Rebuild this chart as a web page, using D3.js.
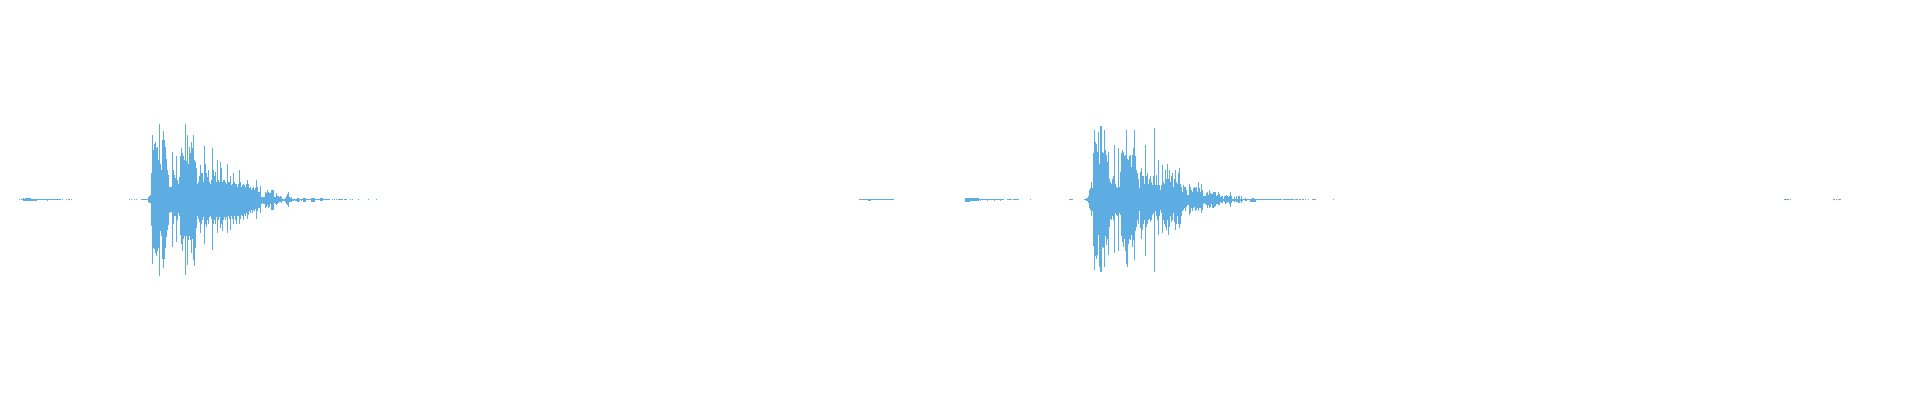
<!DOCTYPE html>
<html>
<head>
<meta charset="utf-8">
<script src="https://cdn.jsdelivr.net/npm/d3@7"></script>
<style>
  html, body { margin: 0; padding: 0; background: #fff; overflow: hidden; }
  svg { display: block; }
</style>
</head>
<body>
<script>
// waveform peaks, one value per display frame (1 frame = 1 column)
var totalFrames = 1920;

// near-silent stretches, drawn at the floor level: [first frame, last frame]
var quietRuns = [
  [19, 19], [38, 60], [62, 62], [66, 66], [68, 69], [71, 71],
  [129, 129], [131, 131], [134, 134], [136, 136],
  [332, 332], [334, 334], [336, 336], [338, 342], [344, 346], [350, 350],
  [352, 352], [358, 358], [368, 368], [376, 376],
  [859, 893], [979, 1003], [1007, 1011], [1013, 1018], [1030, 1030], [1069, 1072],
  [1260, 1281], [1283, 1293], [1295, 1297], [1299, 1300], [1302, 1303],
  [1305, 1305], [1308, 1308], [1312, 1315], [1333, 1333],
  [1784, 1788], [1790, 1790], [1833, 1834], [1836, 1836], [1838, 1840]
];
var floorLevel = 0.005;

// single frames dipping just below the line
var dipFrames = [47, 868, 869, 870, 980, 987, 994, 1000];
var dipLevel = 0.02;

// small hiss before the first hit
var hissAStart = 21;
var hissAUp = [0.005, 0.005, 0.015, 0.005, 0.015, 0.015, 0.015, 0.015, 0.015, 0.015, 0.005, 0.005, 0.005, 0.005, 0.005, 0.005, 0.005];
var hissADown = [0.005, 0.005, 0.02, 0.02, 0.02, 0.02, 0.02, 0.02, 0.02, 0.02, 0.02, 0.02, 0.02, 0.02, 0.02, 0.02, 0.005];

// small hiss before the second hit
var hissBStart = 965;
var hissBUp = [0.025, 0.025, 0.025, 0.025, 0.025, 0.017, 0.017, 0.017, 0.017, 0.017, 0.017, 0.017, 0.017, 0.017];
var hissBDown = [0.03, 0.03, 0.03, 0.03, 0.03, 0.02, 0.02, 0.02, 0.02, 0.02, 0.02, 0.02, 0.02, 0.02];

// first hit
var hit1Start = 141;
var hit1Up = [
  0.01, 0.01, 0.01, 0.01, 0.01, 0.01, 0.01, 0.03, 0.04, 0.06,
  0.33, 0.81, 0.62, 0.70, 0.72, 0.64, 0.66, 0.50, 0.94, 0.45,
  0.37, 0.74, 0.86, 0.74, 0.66, 0.51, 0.37, 0.31, 0.16, 0.16,
  0.16, 0.60, 0.37, 0.31, 0.27, 0.54, 0.24, 0.20, 0.28, 0.54,
  0.64, 0.58, 0.54, 0.50, 0.94, 0.48, 0.81, 0.45, 0.66, 0.58,
  0.72, 0.64, 0.81, 0.49,
  0.47, 0.40, 0.20, 0.22, 0.30, 0.43, 0.33, 0.33, 0.22, 0.67,
  0.45, 0.33, 0.28, 0.37, 0.22, 0.20, 0.24, 0.64, 0.37, 0.30,
  0.35, 0.22, 0.50, 0.24, 0.22, 0.47, 0.40, 0.22, 0.24, 0.24,
  0.22, 0.20, 0.45, 0.22, 0.22, 0.30, 0.18, 0.20, 0.33, 0.22,
  0.20, 0.20, 0.16, 0.20, 0.37, 0.22, 0.16, 0.18, 0.20, 0.18,
  0.16, 0.20, 0.24, 0.20, 0.14, 0.16, 0.12, 0.14, 0.16, 0.12,
  0.14, 0.24, 0.16, 0.10, 0.09,
  0.17, 0.03, 0.03, 0.03, 0.03, 0.10, 0.08, 0.12, 0.10, 0.08,
  0.08, 0.12, 0.12, 0.12, 0.03, 0.03, 0.08, 0.05, 0.04, 0.03,
  0.05, 0.03, 0.01, 0.01, 0.01, 0.02, 0.04, 0.07, 0.10, 0.03,
  0.02, 0.03, 0.01, 0.01, 0.01, 0.01, 0.01, 0.02, 0.02, 0.01,
  0.01, 0.01, 0.01, 0.02, 0.02, 0.02, 0.01, 0.01, 0.01, 0.01,
  0.01, 0.02, 0.02, 0.02, 0.02, 0.01, 0.01, 0.01, 0.01, 0.01,
  0.02, 0.02, 0.02, 0.005, 0.005, 0.005, 0.005, 0.005, 0.005, 0.005
];
var hit1Down = [
  0.01, 0.01, 0.01, 0.01, 0.01, 0.01, 0.01, 0.03, 0.04, 0.04,
  0.33, 0.81, 0.61, 0.62, 0.67, 0.71, 0.65, 0.60, 0.95, 0.40,
  0.46, 0.74, 0.86, 0.74, 0.61, 0.47, 0.38, 0.32, 0.17, 0.16,
  0.16, 0.59, 0.30, 0.21, 0.21, 0.53, 0.26, 0.17, 0.21, 0.44,
  0.55, 0.65, 0.49, 0.45, 0.94, 0.45, 0.82, 0.50, 0.46, 0.51,
  0.67, 0.49, 0.76, 0.83,
  0.60, 0.35, 0.21, 0.24, 0.28, 0.42, 0.30, 0.26, 0.22, 0.55,
  0.30, 0.34, 0.26, 0.30, 0.22, 0.21, 0.24, 0.63, 0.30, 0.26,
  0.30, 0.22, 0.42, 0.26, 0.22, 0.36, 0.30, 0.40, 0.26, 0.22,
  0.26, 0.22, 0.42, 0.21, 0.24, 0.38, 0.21, 0.24, 0.30, 0.21,
  0.26, 0.30, 0.21, 0.20, 0.30, 0.24, 0.19, 0.20, 0.26, 0.18,
  0.21, 0.17, 0.24, 0.19, 0.15, 0.17, 0.13, 0.17, 0.13, 0.14,
  0.12, 0.24, 0.14, 0.11, 0.10,
  0.17, 0.05, 0.04, 0.05, 0.05, 0.11, 0.09, 0.07, 0.11, 0.09,
  0.05, 0.13, 0.13, 0.13, 0.04, 0.06, 0.07, 0.06, 0.04, 0.03,
  0.03, 0.04, 0.02, 0.02, 0.02, 0.03, 0.05, 0.07, 0.09, 0.03,
  0.03, 0.03, 0.02, 0.02, 0.01, 0.02, 0.02, 0.03, 0.03, 0.02,
  0.01, 0.02, 0.01, 0.03, 0.03, 0.03, 0.01, 0.01, 0.01, 0.01,
  0.01, 0.03, 0.03, 0.03, 0.03, 0.01, 0.01, 0.01, 0.01, 0.01,
  0.02, 0.02, 0.02, 0.005, 0.005, 0.005, 0.005, 0.005, 0.005, 0.005
];

// second hit
var hit2Start = 1084;
var hit2Up = [
  0.01, 0.01, 0.02, 0.02, 0.04, 0.12, 0.14, 0.22, 0.14, 0.58,
  0.87, 0.72, 0.70, 0.60, 0.85, 0.45, 0.92, 0.92, 0.60, 0.58,
  0.87, 0.62, 0.56, 0.47, 0.60, 0.26, 0.22, 0.20, 0.26, 0.29,
  0.68, 0.20, 0.16, 0.14, 0.64, 0.16, 0.35, 0.58, 0.62, 0.60,
  0.54, 0.56, 0.87, 0.51, 0.49, 0.54, 0.56, 0.41, 0.56, 0.64,
  0.87, 0.54, 0.37, 0.33, 0.26, 0.14, 0.35, 0.39, 0.29, 0.30,
  0.20, 0.68, 0.29, 0.33, 0.20, 0.26, 0.29, 0.22, 0.18, 0.29,
  0.89, 0.18, 0.31, 0.18, 0.50, 0.18, 0.12, 0.18, 0.43, 0.22,
  0.20, 0.37, 0.26, 0.45, 0.26, 0.37, 0.22, 0.29, 0.33, 0.16,
  0.26, 0.37, 0.22, 0.20, 0.33, 0.39, 0.20, 0.16, 0.10, 0.18,
  0.16, 0.16, 0.12, 0.06, 0.06, 0.20, 0.16, 0.12, 0.10, 0.14,
  0.16, 0.14, 0.16, 0.10, 0.22, 0.14,
  0.09, 0.19, 0.12, 0.04, 0.04, 0.04, 0.08, 0.09, 0.06, 0.12,
  0.08, 0.07, 0.07, 0.10, 0.10, 0.09, 0.04, 0.06, 0.09, 0.07,
  0.03, 0.04, 0.04, 0.01, 0.04, 0.04, 0.06, 0.04, 0.03, 0.04,
  0.09, 0.04, 0.01, 0.01, 0.03, 0.01, 0.04, 0.01, 0.04, 0.04,
  0.01, 0.04, 0.01, 0.01, 0.01, 0.02, 0.01, 0.01, 0.01, 0.01,
  0.01, 0.01, 0.02, 0.02, 0.01, 0.01, 0.01, 0.01, 0.01, 0.01
];
var hit2Down = [
  0.01, 0.01, 0.02, 0.02, 0.04, 0.11, 0.13, 0.21, 0.15, 0.58,
  0.88, 0.71, 0.74, 0.69, 0.44, 0.84, 0.91, 0.91, 0.59, 0.61,
  0.84, 0.46, 0.57, 0.49, 0.69, 0.34, 0.24, 0.26, 0.21, 0.26,
  0.67, 0.17, 0.19, 0.21, 0.65, 0.17, 0.19, 0.46, 0.53, 0.59,
  0.49, 0.65, 0.80, 0.84, 0.55, 0.49, 0.51, 0.44, 0.59, 0.51,
  0.76, 0.40, 0.34, 0.26, 0.30, 0.15, 0.36, 0.49, 0.38, 0.30,
  0.26, 0.71, 0.34, 0.30, 0.26, 0.24, 0.28, 0.26, 0.19, 0.17,
  0.90, 0.15, 0.21, 0.26, 0.44, 0.21, 0.13, 0.17, 0.42, 0.26,
  0.30, 0.34, 0.38, 0.26, 0.44, 0.34, 0.21, 0.28, 0.26, 0.17,
  0.28, 0.38, 0.30, 0.21, 0.30, 0.36, 0.30, 0.21, 0.15, 0.13,
  0.11, 0.15, 0.09, 0.07, 0.07, 0.19, 0.17, 0.11, 0.15, 0.11,
  0.09, 0.15, 0.13, 0.11, 0.15, 0.11,
  0.10, 0.17, 0.13, 0.05, 0.04, 0.05, 0.07, 0.10, 0.07, 0.10,
  0.09, 0.06, 0.10, 0.11, 0.09, 0.08, 0.05, 0.06, 0.07, 0.07,
  0.03, 0.04, 0.04, 0.02, 0.03, 0.06, 0.04, 0.03, 0.03, 0.05,
  0.09, 0.04, 0.02, 0.02, 0.03, 0.02, 0.03, 0.03, 0.04, 0.04,
  0.02, 0.04, 0.02, 0.01, 0.01, 0.02, 0.02, 0.01, 0.01, 0.01,
  0.03, 0.03, 0.03, 0.03, 0.03, 0.03, 0.01, 0.01, 0.01, 0.01
];

var width = 1920,
    height = 400,
    centre = 199.5,
    halfSpan = 80;

var svg = d3.select("body").append("svg")
    .attr("width", width)
    .attr("height", height);

var x = d3.scaleLinear().domain([0, totalFrames]).range([0, width]);
var y = d3.scaleLinear().domain([-1, 1]).range([centre + halfSpan, centre - halfSpan]);

// collect every frame into one list of {f, up, down}
var frames = [];
quietRuns.forEach(function(r) {
  for (var f = r[0]; f <= r[1]; f++) frames.push({f: f, up: floorLevel, down: floorLevel});
});
dipFrames.forEach(function(f) {
  frames.push({f: f, up: floorLevel, down: dipLevel});
});
function addSegment(start, ups, downs) {
  ups.forEach(function(u, i) {
    frames.push({f: start + i, up: u, down: downs[i]});
  });
}
addSegment(hissAStart, hissAUp, hissADown);
addSegment(hissBStart, hissBUp, hissBDown);
addSegment(hit1Start, hit1Up, hit1Down);
addSegment(hit2Start, hit2Up, hit2Down);

svg.append("g")
    .attr("shape-rendering", "crispEdges")
  .selectAll("rect")
    .data(frames)
  .enter().append("rect")
    .attr("x", function(d) { return x(d.f); })
    .attr("width", function(d) { return x(d.f + 1) - x(d.f); })
    .attr("y", function(d) { return Math.round(y(d.up)); })
    .attr("height", function(d) {
      var top = Math.round(y(d.up)), bottom = Math.round(y(-d.down));
      return Math.max(1, bottom - top);
    })
    .attr("fill", "#5dade2");
</script>
</body>
</html>
